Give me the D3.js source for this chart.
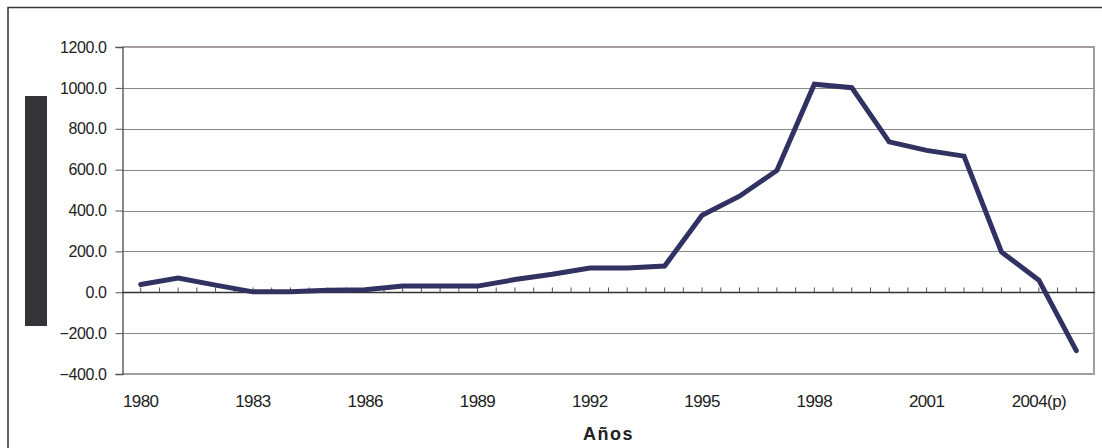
<!DOCTYPE html>
<html>
<head>
<meta charset="utf-8">
<script src="https://cdn.jsdelivr.net/npm/d3@7"></script>
<style>
  html, body { margin: 0; padding: 0; background: #fff; }
  svg { display: block; }
  text { font-family: "Liberation Sans", Arial, sans-serif; fill: #222; }
</style>
</head>
<body>
<svg id="chart" width="1102" height="448"></svg>
<script>
// Annual series, 1980–2005
const years = [1980, 1981, 1982, 1983, 1984, 1985, 1986, 1987, 1988, 1989,
               1990, 1991, 1992, 1993, 1994, 1995, 1996, 1997, 1998, 1999,
               2000, 2001, 2002, 2003, 2004, 2005];
const values = [38, 70, 35, 2, 2, 10, 12, 30, 30, 30,
                62, 88, 119, 119, 128, 377, 470, 596, 1018, 1001,
                736, 694, 666, 197, 59, -286];

// Labelled categories on the x axis and their texts
const labelYears = [1980, 1983, 1986, 1989, 1992, 1995, 1998, 2001, 2004];
const labelTexts = ["1980", "1983", "1986", "1989", "1992", "1995", "1998", "2001", "2004(p)"];

// Value axis ticks
const yTicks = [-400, -200, 0, 200, 400, 600, 800, 1000, 1200];
const xTitle = "Años";

const svg = d3.select("#chart");

const plot = { left: 122, right: 1095, top: 47, bottom: 374 };

const x = d3.scalePoint()
  .domain(years)
  .range([plot.left, plot.right])
  .padding(0.5);

const y = d3.scaleLinear()
  .domain([-400, 1200])
  .range([plot.bottom, plot.top]);

// Outer frame (top and left edges)
svg.append("path")
  .attr("d", `M8,448 L8,7.5 L1102,7.5`)
  .attr("fill", "none")
  .attr("stroke", "#3a3a3a")
  .attr("stroke-width", 1.6);

// Blank panel where the vertical title sits
svg.append("rect")
  .attr("x", 25).attr("y", 96)
  .attr("width", 22).attr("height", 230)
  .attr("fill", "#353438");

// Horizontal gridlines
svg.append("g")
  .selectAll("line")
  .data(yTicks.filter(d => d !== 0 && d !== -400 && d !== 1200))
  .join("line")
  .attr("x1", plot.left).attr("x2", plot.right)
  .attr("y1", d => Math.round(y(d)) + 0.5)
  .attr("y2", d => Math.round(y(d)) + 0.5)
  .attr("stroke", "#8d8686")
  .attr("stroke-width", 1);

// Plot area border (top, right, bottom)
svg.append("path")
  .attr("d", `M${plot.left},${plot.top} L${plot.right - 1},${plot.top} L${plot.right - 1},${plot.bottom} L${plot.left},${plot.bottom}`)
  .attr("fill", "none")
  .attr("stroke", "#a59c9c")
  .attr("stroke-width", 2);

// Y axis
const yAxis = d3.axisLeft(y)
  .tickValues(yTicks)
  .tickSize(7)
  .tickPadding(9)
  .tickFormat(d3.format(".1f"));

const gy = svg.append("g")
  .attr("transform", `translate(${plot.left + 0.5},0)`)
  .call(yAxis);
gy.select(".domain").attr("stroke", "#555").attr("stroke-width", 1.4);
gy.selectAll(".tick line").attr("stroke", "#555");
gy.selectAll(".tick text")
  .attr("font-size", 16)
  .attr("letter-spacing", "-0.4px")
  .attr("fill", "#222");

// Category axis along the zero line, small upward ticks at centres and boundaries
const step = x.step();
const tickPos = [];
years.forEach(yr => {
  tickPos.push(x(yr));
  tickPos.push(x(yr) + step / 2);
});
const zeroY = Math.round(y(0)) + 0.5;

svg.append("line")
  .attr("x1", plot.left).attr("x2", plot.right)
  .attr("y1", zeroY).attr("y2", zeroY)
  .attr("stroke", "#333")
  .attr("stroke-width", 1.5);

svg.append("g")
  .selectAll("line")
  .data(tickPos.filter(p => p < plot.right - 2))
  .join("line")
  .attr("x1", d => d).attr("x2", d => d)
  .attr("y1", zeroY).attr("y2", zeroY - 5)
  .attr("stroke", "#555")
  .attr("stroke-width", 1);

// Category labels below the plot
svg.append("g")
  .selectAll("text")
  .data(labelYears)
  .join("text")
  .attr("x", d => x(d))
  .attr("y", 407)
  .attr("text-anchor", "middle")
  .attr("font-size", 17)
  .attr("letter-spacing", "-0.6px")
  .text((d, i) => labelTexts[i]);

// Axis title
svg.append("text")
  .attr("x", (plot.left + plot.right) / 2)
  .attr("y", 440)
  .attr("text-anchor", "middle")
  .attr("font-size", 18)
  .attr("font-weight", "bold")
  .attr("letter-spacing", "1.5px")
  .attr("fill", "#333")
  .text(xTitle);

// Series line
const line = d3.line()
  .x((d, i) => x(years[i]))
  .y(d => y(d));

svg.append("path")
  .datum(values)
  .attr("d", line)
  .attr("fill", "none")
  .attr("stroke", "#323262")
  .attr("stroke-width", 5)
  .attr("stroke-linejoin", "miter")
  .attr("stroke-linecap", "round");
</script>
</body>
</html>
